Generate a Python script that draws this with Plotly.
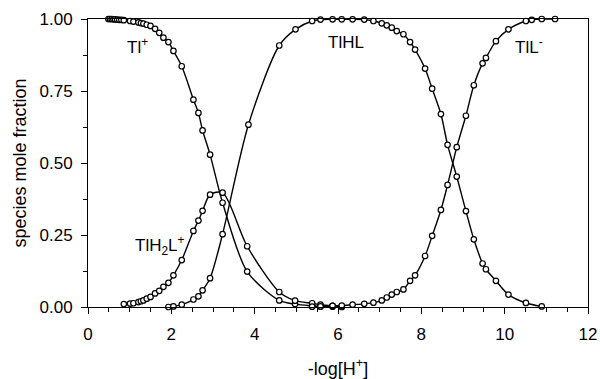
import plotly.graph_objects as go

# -log[H+] values and species mole fractions
ph_tl = [0.49, 0.53, 0.57, 0.61, 0.65, 0.70, 0.75, 0.80, 0.86, 1.01, 1.09, 1.21, 1.27, 1.33,
         1.41, 1.50, 1.61, 1.71, 1.81, 1.93, 2.05, 2.25, 2.53, 2.65, 2.75, 2.93, 3.23, 3.82,
         4.59, 4.97, 5.38, 5.58, 5.87, 6.09]
frac_tl = [1.000, 1.000, 1.000, 0.999, 0.999, 0.998, 0.997, 0.997, 0.996, 0.993, 0.991, 0.988,
           0.986, 0.984, 0.980, 0.976, 0.966, 0.952, 0.935, 0.920, 0.889, 0.836, 0.720, 0.674,
           0.613, 0.529, 0.362, 0.123, 0.023, 0.010, 0.004, 0.002, 0.001, 0.000]

ph_h2l = [0.86, 1.01, 1.09, 1.21, 1.27, 1.33, 1.41, 1.50, 1.61, 1.71, 1.81, 1.93, 2.05, 2.25,
          2.53, 2.65, 2.75, 2.93, 3.23, 3.82, 4.59, 4.97, 5.38, 5.58, 5.87, 6.09]
frac_h2l = [0.010, 0.012, 0.013, 0.017, 0.020, 0.023, 0.029, 0.035, 0.047, 0.056, 0.070, 0.084,
            0.110, 0.163, 0.264, 0.300, 0.334, 0.390, 0.397, 0.211, 0.052, 0.022, 0.013, 0.008,
            0.004, 0.002]

ph_hl = [1.93, 2.05, 2.25, 2.53, 2.65, 2.75, 2.93, 3.23, 3.85, 4.59, 4.98, 5.38, 5.58, 5.87,
         6.09, 6.35, 6.63, 6.85, 7.05, 7.17, 7.29, 7.41, 7.57, 7.73, 7.85, 8.09, 8.26, 8.47,
         8.63, 8.85, 9.07, 9.26, 9.47, 9.55, 9.79, 10.09, 10.51, 10.89]
frac_hl = [0.000, 0.002, 0.008, 0.026, 0.037, 0.058, 0.100, 0.253, 0.633, 0.908, 0.964, 0.993,
           0.998, 0.999, 0.999, 0.999, 0.998, 0.993, 0.985, 0.978, 0.970, 0.958, 0.947, 0.920,
           0.894, 0.828, 0.758, 0.670, 0.563, 0.453, 0.333, 0.235, 0.151, 0.131, 0.091, 0.043,
           0.014, 0.002]

ph_l = [5.38, 5.58, 5.87, 6.09, 6.35, 6.63, 6.85, 7.05, 7.17, 7.29, 7.41, 7.57, 7.73, 7.85,
        8.09, 8.26, 8.47, 8.63, 8.85, 9.07, 9.26, 9.47, 9.55, 9.79, 10.09, 10.51, 10.65,
        10.89, 11.21]
frac_l = [0.001, 0.002, 0.004, 0.005, 0.008, 0.011, 0.015, 0.023, 0.033, 0.043, 0.052, 0.061,
          0.091, 0.110, 0.177, 0.247, 0.337, 0.424, 0.555, 0.664, 0.770, 0.846, 0.865, 0.923,
          0.964, 0.993, 0.997, 1.000, 1.000]

species = [
    ("Tl+", ph_tl, frac_tl),
    ("TlH2L+", ph_h2l, frac_h2l),
    ("TlHL", ph_hl, frac_hl),
    ("TlL-", ph_l, frac_l),
]

# label text and its anchor position (data coordinates)
label_text = ["Tl<sup>+</sup>", "TlH<sub>2</sub>L<sup>+</sup>", "TlHL", "TlL<sup>-</sup>"]
label_x = [1.18, 1.73, 6.2, 10.58]
label_y = [0.905, 0.215, 0.92, 0.905]

x_ticks = [0, 2, 4, 6, 8, 10, 12]
y_ticks = [0.0, 0.25, 0.5, 0.75, 1.0]

FONT = "Liberation Sans, Arial, sans-serif"

fig = go.Figure()
for name, xs, ys in species:
    fig.add_trace(go.Scatter(
        x=xs, y=ys, name=name, mode="lines+markers",
        line=dict(color="black", width=1.4, shape="spline", smoothing=0.8),
        marker=dict(symbol="circle", size=5.5, color="white",
                    line=dict(color="black", width=1.2)),
        cliponaxis=False, showlegend=False,
    ))

for t, x, y in zip(label_text, label_x, label_y):
    fig.add_annotation(x=x, y=y, xref="x", yref="y", text=t, showarrow=False,
                       font=dict(family=FONT, size=17, color="black"))

fig.update_layout(
    width=600, height=379,
    margin=dict(l=88, r=12, t=19, b=72, autoexpand=False),
    paper_bgcolor="white", plot_bgcolor="white",
    font=dict(family=FONT, color="black"),
)
fig.update_xaxes(
    range=[0, 12], tickvals=x_ticks, ticktext=[str(v) for v in x_ticks],
    ticks="outside", ticklen=6, tickwidth=1, tickcolor="black",
    minor=dict(dtick=0.5, tick0=0, ticks="outside", ticklen=4, tickcolor="black"),
    showline=True, linecolor="black", linewidth=1, mirror=True,
    showgrid=False, zeroline=False, automargin=False,
    tickfont=dict(size=17, color="black"), ticklabelstandoff=6,
    title=dict(text="-log[H<sup>+</sup>]", font=dict(size=18, color="black"), standoff=22),
)
fig.update_yaxes(
    range=[0, 1], tickvals=y_ticks, ticktext=[f"{v:.2f}" for v in y_ticks],
    ticks="outside", ticklen=6, tickwidth=1, tickcolor="black",
    minor=dict(dtick=0.125, tick0=0, ticks="outside", ticklen=4, tickcolor="black"),
    showline=True, linecolor="black", linewidth=1, mirror=True,
    showgrid=False, zeroline=False, automargin=False,
    tickfont=dict(size=17, color="black"), ticklabelstandoff=5,
    title=dict(text="species mole fraction", font=dict(size=18, color="black"), standoff=8),
)

fig.write_html("out.html")
